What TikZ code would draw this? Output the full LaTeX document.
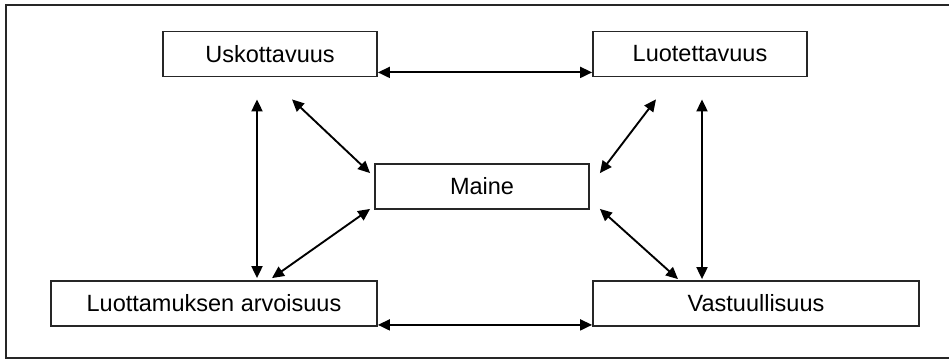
\documentclass[tikz,border=0pt]{standalone}
\usepackage{fontspec}
\setmainfont{Liberation Sans}
\usetikzlibrary{arrows.meta}
\begin{document}
\begin{tikzpicture}[x=1pt,y=-1pt,
  concept/.style={draw=black!85,line width=1.8pt,rectangle,inner sep=0pt,
    minimum height=45pt,font=\fontsize{23.5}{28}\selectfont},
  narrow/.style={concept,minimum width=214pt},
  wide/.style={concept,minimum width=326pt},
  link/.style={line width=1.9pt,{Triangle[length=12pt,width=11pt]}-{Triangle[length=12pt,width=11pt]}}]
  \clip (0,0) rectangle (949,360);
  \useasboundingbox (0,0) rectangle (949,360);
  % outer frame
  \draw[line width=1.8pt,black!85] (6,5) rectangle (960,358);
  % concepts
  \node[narrow] (usk) at (270,54) {Uskottavuus};
  \node[narrow] (luot) at (700,54) {Luotettavuus};
  \node[narrow] (maine) at (482,186.5) {Maine};
  \node[wide] (arvo) at (214,303.5) {Luottamuksen arvoisuus};
  \node[wide] (vastuu) at (756,303.5) {Vastuullisuus};
  % connections
  \draw[link] ([yshift=5pt]usk.south east) -- ([yshift=5pt]luot.south west);
  \draw[link] ([yshift=2pt]arvo.south east) -- ([yshift=2pt]vastuu.south west);
  \draw[link] ([xshift=-13pt,yshift=-22pt]usk.south) -- ([xshift=43pt,yshift=2pt]arvo.north);
  \draw[link] ([xshift=2pt,yshift=-22pt]luot.south) -- ([xshift=-54pt,yshift=1pt]vastuu.north);
  \draw[link] ([xshift=22pt,yshift=-22pt]usk.south) -- ([xshift=-4pt,yshift=-10pt]maine.north west);
  \draw[link] ([xshift=-4pt,yshift=1pt]maine.south west) -- ([xshift=58pt,yshift=2pt]arvo.north);
  \draw[link] ([xshift=10pt,yshift=-10pt]maine.north east) -- ([xshift=-44pt,yshift=-22pt]luot.south);
  \draw[link] ([xshift=10pt,yshift=1pt]maine.south east) -- ([xshift=-78pt,yshift=1pt]vastuu.north);
\end{tikzpicture}
\end{document}
